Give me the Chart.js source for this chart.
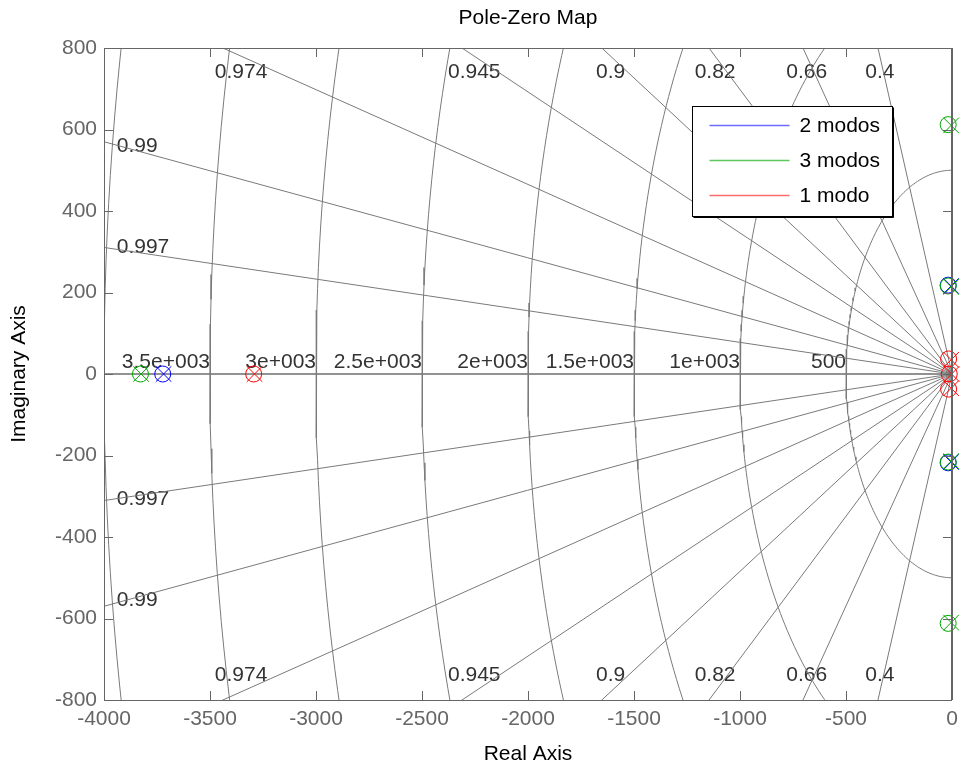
<!DOCTYPE html>
<html>
<head>
<meta charset="utf-8">
<script src="https://cdn.jsdelivr.net/npm/chart.js@4.4.1/dist/chart.umd.min.js"></script>
<style>
  html, body { margin: 0; padding: 0; background: #fff; }
</style>
</head>
<body>
<canvas id="pzmap" width="964" height="767"></canvas>
<script>
// poles (x) and zeros (o), real / imaginary parts
const modos2ZeroRe = [-3723, -18, -18];
const modos2ZeroIm = [0, 218, -218];
const modos2PoleRe = [-3719, -4, -4];
const modos2PoleIm = [0, 216, -216];

const modos3ZeroRe = [-3828, -18, -18, -18, -18];
const modos3ZeroIm = [0, 612, -612, 216, -216];
const modos3PoleRe = [-3825, -4, -4, -4, -4];
const modos3PoleIm = [0, 610, -610, 214, -214];

const modo1ZeroRe = [-3294, -16, -16, -13];
const modo1ZeroIm = [0, 37, -37, 0];
const modo1PoleRe = [-3290, -4, -4, -2];
const modo1PoleIm = [0, 35, -35, 0];

const seriesNames = ["2 modos", "3 modos", "1 modo"];
const seriesColors = ["#0000ff", "#00a800", "#ff0000"];
const legendColors = ["#6b6bff", "#5ec85e", "#ff6b6b"];

// s-plane grid: damping ratios and natural frequencies
const zetaGrid = [0.4, 0.66, 0.82, 0.9, 0.945, 0.974, 0.99, 0.997];
const wnGrid = [500, 1000, 1500, 2000, 2500, 3000, 3500, 4000];
const wnLabels = ["500", "1e+003", "1.5e+003", "2e+003", "2.5e+003", "3e+003", "3.5e+003", ""];

const xTicks = [-4000, -3500, -3000, -2500, -2000, -1500, -1000, -500, 0];
const yTicks = [-800, -600, -400, -200, 0, 200, 400, 600, 800];

const FONT = "'Liberation Sans', Arial, Helvetica, sans-serif";
Chart.defaults.font.family = FONT;

function pts(re, im) {
  return re.map((r, i) => ({ x: r, y: im[i] }));
}

const gridSets = [];
zetaGrid.forEach(z => {
  const s = Math.sqrt(1 - z * z);
  [1, -1].forEach(sign => {
    gridSets.push({
      data: [{ x: 0, y: 0 }, { x: -20000 * z, y: sign * 20000 * s }],
      showLine: true, borderColor: "#7a7a7a", borderWidth: 1,
      pointRadius: 0, order: 10
    });
  });
});
wnGrid.forEach(wn => {
  const arc = [];
  for (let a = 90; a <= 270; a += 1) {
    const t = a * Math.PI / 180;
    arc.push({ x: wn * Math.cos(t), y: wn * Math.sin(t) });
  }
  gridSets.push({
    data: arc, showLine: true, borderColor: "#7a7a7a", borderWidth: 1,
    pointRadius: 0, order: 10
  });
});

function zeroSet(re, im, c) {
  return { data: pts(re, im), pointStyle: "circle", pointRadius: 8,
    pointBorderColor: c, pointBackgroundColor: "rgba(0,0,0,0)", pointBorderWidth: 1,
    showLine: false, clip: false, order: 1 };
}
function poleSet(re, im, c) {
  return { data: pts(re, im), pointStyle: "crossRot", pointRadius: 11,
    pointBorderColor: c, pointBorderWidth: 1, showLine: false, clip: false, order: 1 };
}

const markerSets = [
  zeroSet(modo1ZeroRe, modo1ZeroIm, seriesColors[2]),
  poleSet(modo1PoleRe, modo1PoleIm, seriesColors[2]),
  zeroSet(modos3ZeroRe, modos3ZeroIm, seriesColors[1]),
  poleSet(modos3PoleRe, modos3PoleIm, seriesColors[1]),
  zeroSet(modos2ZeroRe, modos2ZeroIm, seriesColors[0]),
  poleSet(modos2PoleRe, modos2PoleIm, seriesColors[0])
];

// title, grid labels, real axis line, box, inward ticks, legend
const pzDecor = {
  id: "pzDecor",
  beforeDatasetsDraw(chart) {
    const { ctx, chartArea: a, scales: { x, y } } = chart;
    ctx.save();
    // real axis
    ctx.strokeStyle = "#6e6e6e";
    ctx.lineWidth = 1.5;
    ctx.beginPath();
    ctx.moveTo(a.left, y.getPixelForValue(0));
    ctx.lineTo(a.right, y.getPixelForValue(0));
    ctx.stroke();

    ctx.fillStyle = "#333";
    ctx.font = "21px " + FONT;
    // damping labels
    zetaGrid.forEach(z => {
      const t = Math.tan(Math.acos(z));
      if (800 / t < 4000) {
        ctx.textAlign = "center";
        ctx.textBaseline = "middle";
        const px = x.getPixelForValue(-780 / t);
        ctx.fillText(String(z), px, y.getPixelForValue(740));
        ctx.fillText(String(z), px, y.getPixelForValue(-740));
      } else {
        ctx.textAlign = "left";
        ctx.textBaseline = "middle";
        const px = x.getPixelForValue(-3940);
        const im = 3840 * t + 12;
        ctx.fillText(String(z), px, y.getPixelForValue(im));
        ctx.fillText(String(z), px, y.getPixelForValue(-im + 4));
      }
    });
    // natural frequency labels
    ctx.textAlign = "right";
    ctx.textBaseline = "alphabetic";
    wnGrid.forEach((wn, i) => {
      if (!wnLabels[i]) return;
      ctx.fillText(wnLabels[i], x.getPixelForValue(-wn), y.getPixelForValue(0) - 6);
    });
    ctx.restore();
  },
  afterDraw(chart) {
    const { ctx, chartArea: a, scales: { x, y } } = chart;
    ctx.save();
    // title centred over the axes
    ctx.fillStyle = "#000";
    ctx.font = "21px " + FONT;
    ctx.textAlign = "center";
    ctx.textBaseline = "middle";
    ctx.fillText("Pole-Zero Map", (a.left + a.right) / 2, 18);

    ctx.strokeStyle = "#666";
    ctx.lineWidth = 1;
    ctx.beginPath();
    xTicks.forEach(v => {
      const px = Math.round(x.getPixelForValue(v)) + 0.5;
      ctx.moveTo(px, a.bottom); ctx.lineTo(px, a.bottom - 9);
      ctx.moveTo(px, a.top); ctx.lineTo(px, a.top + 9);
    });
    yTicks.forEach(v => {
      const py = Math.round(y.getPixelForValue(v)) + 0.5;
      ctx.moveTo(a.left, py); ctx.lineTo(a.left + 9, py);
      ctx.moveTo(a.right, py); ctx.lineTo(a.right - 9, py);
    });
    ctx.stroke();
    ctx.strokeRect(Math.round(a.left) + 0.5, Math.round(a.top) + 0.5,
      Math.round(a.right - a.left) - 1, Math.round(a.bottom - a.top));
    ctx.lineWidth = 2;
    ctx.beginPath();
    ctx.moveTo(a.right, a.top); ctx.lineTo(a.right, a.bottom);
    ctx.stroke();

    // legend box
    const lx = Math.round(a.right - 260) + 0.5, ly = Math.round(a.top + 58) + 0.5;
    const lw = 200, lh = 110;
    ctx.fillStyle = "#fff";
    ctx.fillRect(lx, ly, lw, lh);
    ctx.strokeStyle = "#000";
    ctx.lineWidth = 1;
    ctx.strokeRect(lx, ly, lw, lh);
    ctx.beginPath();
    ctx.moveTo(lx + lw + 1, ly + 1); ctx.lineTo(lx + lw + 1, ly + lh + 1);
    ctx.lineTo(lx + 1, ly + lh + 1);
    ctx.stroke();
    ctx.font = "21px " + FONT;
    ctx.textAlign = "left";
    ctx.textBaseline = "middle";
    seriesNames.forEach((name, i) => {
      const ry = ly + 19 + i * 35;
      ctx.strokeStyle = legendColors[i];
      ctx.lineWidth = 1.5;
      ctx.beginPath();
      ctx.moveTo(lx + 17, ry); ctx.lineTo(lx + 97, ry);
      ctx.stroke();
      ctx.fillStyle = "#000";
      ctx.fillText(name, lx + 107, ry + 1);
    });
    ctx.restore();
  }
};

new Chart(document.getElementById("pzmap"), {
  type: "scatter",
  data: { datasets: markerSets.concat(gridSets) },
  options: {
    responsive: false,
    animation: false,
    layout: { padding: { left: 0, right: 9, top: 48, bottom: 0 } },
    plugins: {
      legend: { display: false },
      tooltip: { enabled: false },
      title: { display: false }
    },
    scales: {
      x: {
        type: "linear", min: -4000, max: 0,
        afterFit: s => { s.height = 67; s.paddingLeft = 0; s.paddingRight = 0; },
        ticks: { stepSize: 500, color: "#666", font: { size: 21 }, padding: 7,
          callback: v => String(v) },
        grid: { display: false, drawTicks: false },
        border: { display: false },
        title: { display: true, text: "Real Axis", color: "#000",
          font: { size: 21 }, padding: { top: 0, bottom: 0 } }
      },
      y: {
        type: "linear", min: -800, max: 800,
        afterFit: s => { s.width = 104; s.paddingTop = 0; s.paddingBottom = 0; },
        ticks: { stepSize: 200, color: "#666", font: { size: 21 }, padding: 7,
          callback: v => String(v) },
        grid: { display: false, drawTicks: false },
        border: { display: false },
        title: { display: true, text: "Imaginary Axis", color: "#000",
          font: { size: 21 }, padding: { top: 7, bottom: 0 } }
      }
    }
  },
  plugins: [pzDecor]
});
</script>
</body>
</html>
